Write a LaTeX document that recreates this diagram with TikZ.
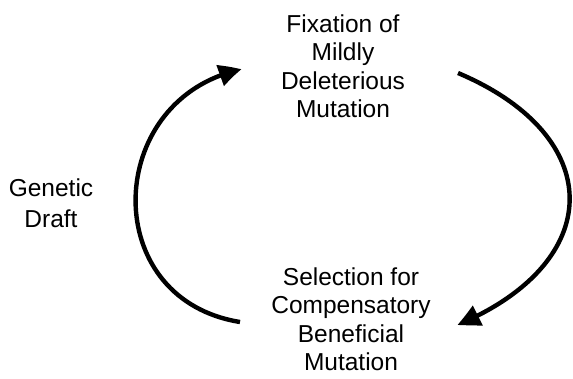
\documentclass[tikz,border=0pt]{standalone}
\usepackage{fontspec}
\setmainfont{Liberation Sans}
\usetikzlibrary{arrows.meta,bending}
\begin{document}
\begin{tikzpicture}[x=1pt,y=1pt,
  lbl/.style={inner sep=0pt, align=center, font=\fontsize{24.5}{28.5}\selectfont},
  cyc/.style={line width=4.4pt, -{Triangle[length=23pt,width=21pt,bend]}}]
\useasboundingbox (0,0) rectangle (573,378);
\node[lbl, anchor=north] (fix) at (343,363.9) {Fixation of\\Mildly\\Deleterious\\Mutation};
\node[lbl, anchor=north] (sel) at (351,110.9) {Selection for\\Compensatory\\Beneficial\\Mutation};
\node[lbl, anchor=north, font=\fontsize{24.5}{30.5}\selectfont] (gd) at (51,199.1) {Genetic\\Draft};
\coordinate (lstart) at (240,56);
\coordinate (lend) at (241.7,308.7);
\coordinate (rstart) at (458,305);
\coordinate (rend) at (457.3,53);
\draw[cyc] (lstart) .. controls (97,79) and (104,280) .. (lend);
\draw[cyc] (rstart) .. controls (607,242) and (607,116) .. (rend);
\end{tikzpicture}
\end{document}
